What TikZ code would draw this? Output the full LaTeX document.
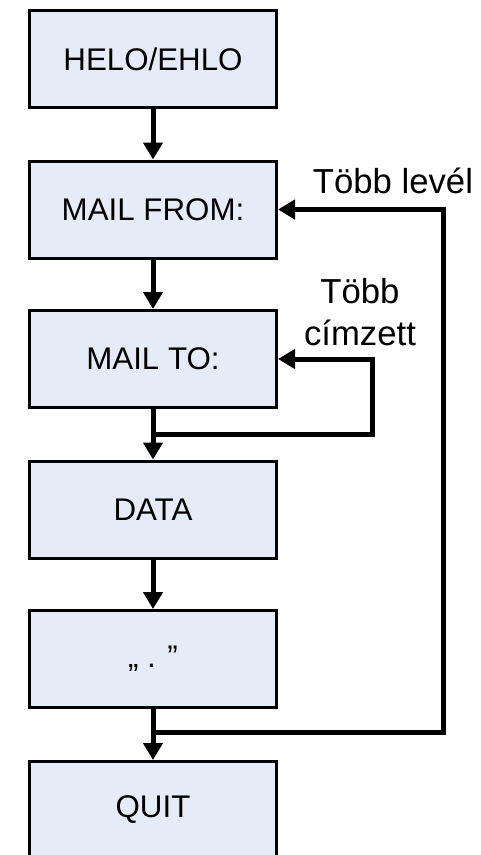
\documentclass[tikz,border=0pt]{standalone}
\usepackage{fontspec}
\setmainfont{Liberation Sans}
\usetikzlibrary{arrows.meta}
\definecolor{boxfill}{RGB}{230,236,247}
\tikzset{
  stepbox/.style={draw=black, line width=3pt, fill=boxfill, rectangle,
    minimum width=247pt, minimum height=97pt, inner sep=0pt,
    font=\fontsize{31.3}{36}\selectfont},
  conn/.style={line width=5pt, -{Triangle[width=19pt,length=17pt]}},
  lbl/.style={font=\fontsize{34.7}{40}\selectfont, inner sep=0pt, anchor=base},
}
\begin{document}
\begin{tikzpicture}[x=1pt,y=-1pt]
  \useasboundingbox (0,0) rectangle (480,855);
  \clip (0,0) rectangle (480,855);

  % protocol steps
  \node[stepbox] (b1) at (153,59)  {HELO/EHLO};
  \node[stepbox] (b2) at (153,209.5) {MAIL FROM:};
  \node[stepbox] (b3) at (153,359) {MAIL TO:};
  \node[stepbox] (b4) at (153,509.5) {DATA};
  \node[stepbox] (b5) at (153,659) {„ . ”};
  \node[stepbox] (b6) at (153,810) {QUIT};

  % junctions where the loops leave the main flow
  \coordinate (j1) at (153,434.5);
  \coordinate (j2) at (153,732);

  % main flow
  \draw[conn] (b1) -- (b2);
  \draw[conn] (b2) -- (b3);
  \draw[conn] (b3) -- (b4);
  \draw[conn] (b4) -- (b5);
  \draw[conn] (b5) -- (b6);

  % repeat loops
  \draw[conn] (j1) -- ++(219.5,0) |- (b3.east);
  \draw[conn] (j2) -- ++(290,0) |- (b2.east);

  % loop labels
  \node[lbl] (l1) at (393,193) {Több levél};
  \node[lbl] (l2a) at (360,303) {Több};
  \node[lbl] (l2b) at (360,345) {címzett};
\end{tikzpicture}
\end{document}
